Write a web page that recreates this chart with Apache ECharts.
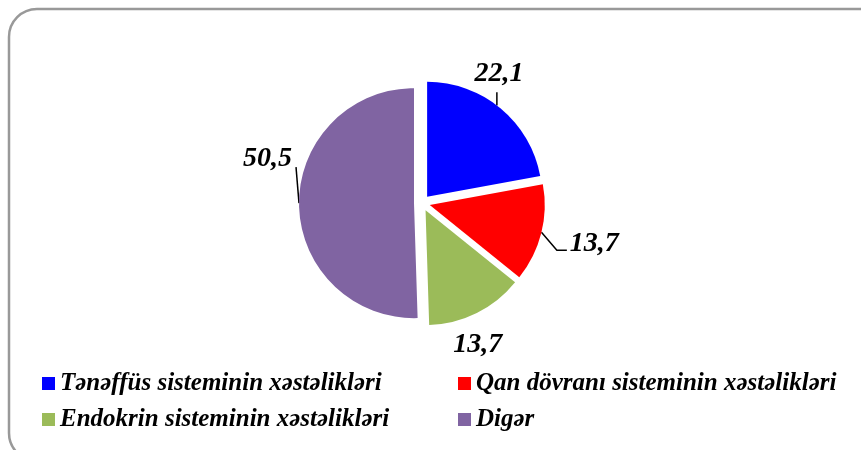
<!DOCTYPE html>
<html>
<head>
<meta charset="utf-8">
<script src="https://cdn.jsdelivr.net/npm/echarts@6/dist/echarts.min.js"></script>
<style>
html,body{margin:0;padding:0;background:#fff;}
#chart{width:861px;height:450px;}
</style>
</head>
<body>
<div id="chart"></div>
<script>
const categories = ["Tənəffüs sisteminin xəstəlikləri", "Qan dövranı sisteminin xəstəlikləri", "Endokrin sisteminin xəstəlikləri", "Digər"];
const values = [22.1, 13.7, 13.7, 50.5];
const colors = ["#0000FF", "#FF0000", "#9BBB59", "#8064A2"];
// label nudges (dx, dy) to place the value labels as in the original
const labelShift = [[-49, -25], [2, 8], [-44, 21], [20, -46]];

const CX = 422, CY = 203, R = 115, OFF = 8;
// label lines live in each slice's own (un-exploded) frame
function rimAtX(x, upper) {
  const d = Math.sqrt(Math.max(0, R * R - (x - CX) ** 2));
  return [x, upper ? CY - d : CY + d];
}
function rimAtY(y, right) {
  const d = Math.sqrt(Math.max(0, R * R - (y - CY) ** 2));
  return [right ? CX + d : CX - d, y];
}

const chart = echarts.init(document.getElementById('chart'));
const font = '"Liberation Serif", "Times New Roman", serif';
const legendText = {fontFamily: font, fontStyle: 'italic', fontWeight: 'bold', fontSize: 25, color: '#000'};

chart.setOption({
  animation: false,
  color: colors,
  graphic: [{
    type: 'rect', silent: true,
    shape: {x: 9, y: 9, width: 880, height: 452, r: 28},
    style: {fill: 'none', stroke: '#999', lineWidth: 2.5}
  }],
  legend: [{
    data: [categories[0], categories[2]],
    orient: 'vertical', left: 42, top: 371, padding: 0,
    itemWidth: 13, itemHeight: 13, itemGap: 11,
    icon: 'rect', textStyle: legendText, selectedMode: false
  }, {
    data: [categories[1], categories[3]],
    orient: 'vertical', left: 458, top: 371, padding: 0,
    itemWidth: 13, itemHeight: 13, itemGap: 11,
    icon: 'rect', textStyle: legendText, selectedMode: false
  }],
  series: [{
    type: 'pie',
    center: [CX, CY],
    radius: R,
    startAngle: 90,
    clockwise: true,
    selectedMode: 'multiple',
    selectedOffset: OFF,
    avoidLabelOverlap: false,
    data: categories.map((c, i) => ({
      name: c, value: values[i], selected: true,
      labelLine: {show: i !== 2}
    })),
    label: {
      show: true,
      position: 'outside',
      formatter: p => String(p.value).replace('.', ','),
      fontFamily: font, fontStyle: 'italic', fontWeight: 'bold', fontSize: 28, color: '#000'
    },
    labelLayout: p => {
      const i = p.dataIndex;
      const [dx, dy] = labelShift[i];
      const L = {x: p.labelRect.x + dx, y: p.labelRect.y + dy, w: p.labelRect.width, h: p.labelRect.height};
      const out = {dx, dy};
      if (i === 0) {
        const x = L.x + L.w / 2 - 2;
        const top = [x, L.y + L.h + 4];
        const bot = rimAtX(x, true);
        out.labelLinePoints = [bot, top, top];
      } else if (i === 1) {
        const p2 = [L.x - 3, L.y + L.h * 0.72];
        const p1 = [p2[0] - 10, p2[1]];
        const p0 = rimAtY(p1[1] - 18, true);
        out.labelLinePoints = [p0, p1, p2];
      } else if (i === 3) {
        const bot = [CX - R, CY];
        const top = [L.x + L.w + 4, L.y + L.h - 6];
        out.labelLinePoints = [bot, top, top];
      }
      return out;
    },
    labelLine: {show: true, length: 12, length2: 10, lineStyle: {color: '#000', width: 1.5}},
    itemStyle: {borderColor: '#fff', borderWidth: 0}
  }]
});
</script>
</body>
</html>
